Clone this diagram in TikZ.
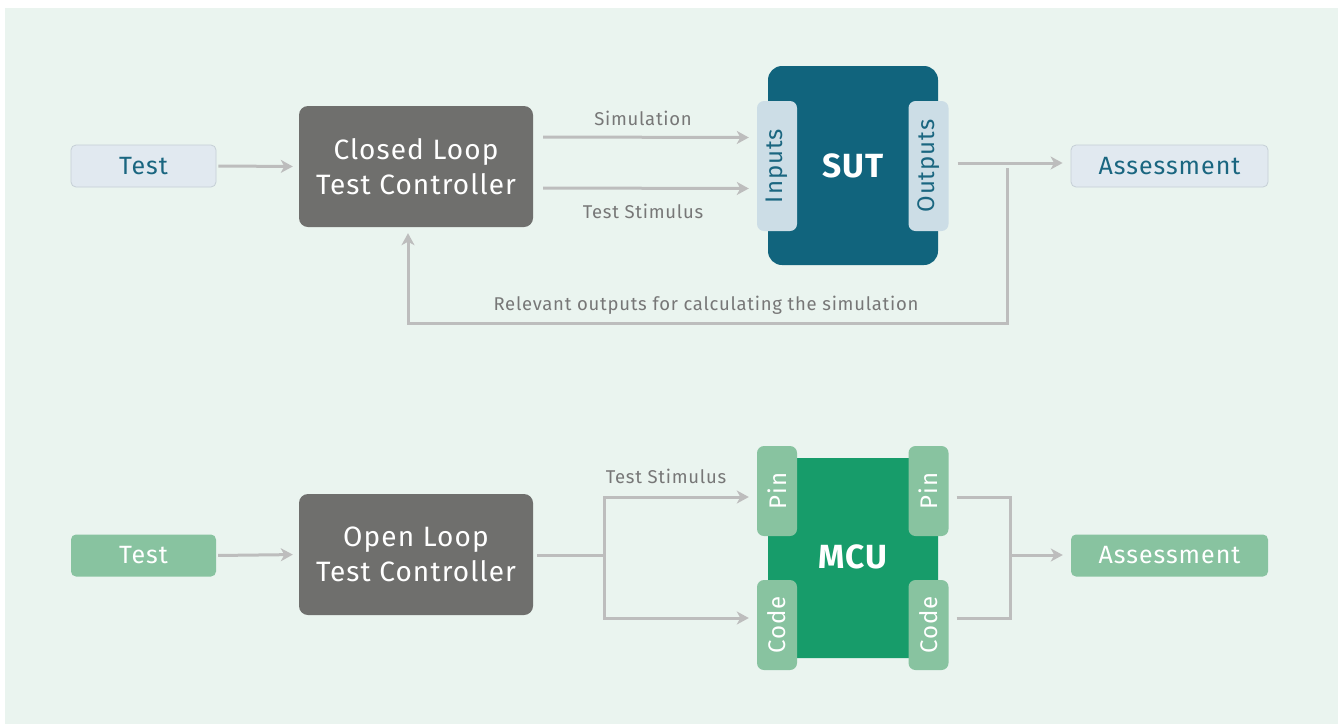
\documentclass[tikz,border=0pt]{standalone}
\usepackage{fontspec}
\setmainfont{Fira Sans}[LetterSpace=4.0]
\usetikzlibrary{arrows.meta}
\definecolor{bgc}{HTML}{EAF4EF}
\definecolor{ctrl}{HTML}{6F6F6D}
\definecolor{sutc}{HTML}{11647D}
\definecolor{tabb}{HTML}{CCDDE6}
\definecolor{lbox}{HTML}{E1E9F0}
\definecolor{lboxd}{HTML}{C5CFD6}
\definecolor{tealtxt}{HTML}{1A6680}
\definecolor{mcuc}{HTML}{179C6A}
\definecolor{greenl}{HTML}{88C3A0}
\definecolor{linec}{HTML}{BDBDBD}
\definecolor{labc}{HTML}{777777}
\tikzset{
  smallbox/.style={rounded corners=5pt, minimum height=42pt, inner sep=0pt, font=\fontsize{25}{28}\selectfont},
  bluebox/.style={smallbox, fill=lbox, draw=lboxd, line width=0.8pt, text=tealtxt},
  greenbox/.style={smallbox, fill=greenl, text=white},
  ctrlbox/.style={rounded corners=9pt, fill=ctrl, text=white, minimum width=234pt, minimum height=121pt, align=center, inner sep=0pt, font=\fontsize{28}{35}\selectfont},
  tab/.style={rounded corners=7pt, rotate=90, inner sep=0pt, font=\fontsize{24}{26}\selectfont, minimum height=40pt},
  btab/.style={tab, fill=tabb, text=tealtxt, minimum width=130pt},
  gtab/.style={tab, fill=greenl, text=white, minimum width=90pt},
  bigl/.style={text=white, font=\fontsize{33.5}{36}\selectfont\bfseries},
  lbl/.style={text=labc, font=\fontsize{18.5}{21}\selectfont, inner sep=0pt},
  conn/.style={draw=linec, line width=3pt},
  arr/.style={conn, -{Stealth[length=12pt,width=13pt,inset=3.5pt]}},
}
\begin{document}
\begin{tikzpicture}[x=1pt,y=-1pt]
\useasboundingbox (0,0) rectangle (1338,724);
\fill[white] (0,0) rectangle (1338,724);
\fill[bgc] (5,8) rectangle (1338,724);

% ---------- top row ----------
\node[bluebox, minimum width=145pt] (test1) at (143.5,166) {Test};
\node[ctrlbox] (cltc) at (416,166.5) {Closed Loop\\Test Controller};
\node[rounded corners=14pt, fill=sutc, minimum width=170pt, minimum height=199pt, inner sep=0pt] (sut) at (853,165.5) {};
\node[bigl] (sutl) at (853,166) {SUT};
\node[btab] (inp) at (777,166) {Inputs};
\node[btab] (outp) at (928.5,166) {Outputs};
\node[bluebox, minimum width=197pt] (ass1) at (1169.5,166) {Assessment};

\draw[arr, shorten <=2pt, shorten >=6pt] (test1.east) -- (cltc.west);
\draw[arr, shorten <=10pt, shorten >=8pt] ([yshift=29.5pt]cltc.east) -- ([yshift=29pt]cltc.east -| inp.north);
\draw[arr, shorten <=10pt, shorten >=8pt] ([yshift=-21.5pt]cltc.east) -- ([yshift=-22pt]cltc.east -| inp.north);
\node[lbl] (simlbl) at (643,118) {Simulation};
\node[lbl] (tslbl1) at (643,211) {Test Stimulus};
\draw[arr, shorten <=9pt, shorten >=8pt] ([yshift=3pt]outp.south |- ass1.west) -- ([yshift=3pt]ass1.west);

\coordinate (fbtop) at (1007,168);
\coordinate (fbcorner) at (408,323);
\draw[arr, shorten >=6pt] (fbtop) |- (fbcorner) -- (fbcorner |- cltc.south);
\node[lbl] (fblbl) at (706,305) {Relevant outputs for calculating the simulation};

% ---------- bottom row ----------
\node[greenbox, minimum width=145pt] (test2) at (143.5,555.5) {Test};
\node[ctrlbox] (oltc) at (416,554.5) {Open Loop\\Test Controller};
\node[rounded corners=2pt, fill=mcuc, minimum width=170pt, minimum height=200pt, inner sep=0pt] (mcu) at (853,558) {};
\node[bigl] (mcul) at (853,557) {MCU};
\node[gtab] (pinL) at (777,491) {Pin};
\node[gtab] (pinR) at (928.5,491) {Pin};
\node[gtab] (codeL) at (777,625) {Code};
\node[gtab] (codeR) at (928.5,625) {Code};
\node[greenbox, minimum width=197pt] (ass2) at (1169.5,555.5) {Assessment};

\draw[arr, shorten <=2pt, shorten >=6pt] (test2.east) -- (oltc.west);
\coordinate (split) at (604,555);
\draw[conn, shorten <=4pt] (oltc.east |- split) -- (split);
\draw[arr, shorten >=8pt] (split) |- ([yshift=-6pt]pinL.north);
\draw[arr, shorten >=8pt] (split) |- ([yshift=7pt]codeL.north);
\node[lbl] (tslbl2) at (666,476) {Test Stimulus};

\coordinate (merge) at (1010,555);
\draw[conn, shorten <=8pt] ([yshift=-6pt]pinR.south) -| (merge);
\draw[conn, shorten <=8pt] ([yshift=7pt]codeR.south) -| (merge);
\draw[arr, shorten >=8pt] (merge) -- (ass2.west |- merge);
\end{tikzpicture}
\end{document}
